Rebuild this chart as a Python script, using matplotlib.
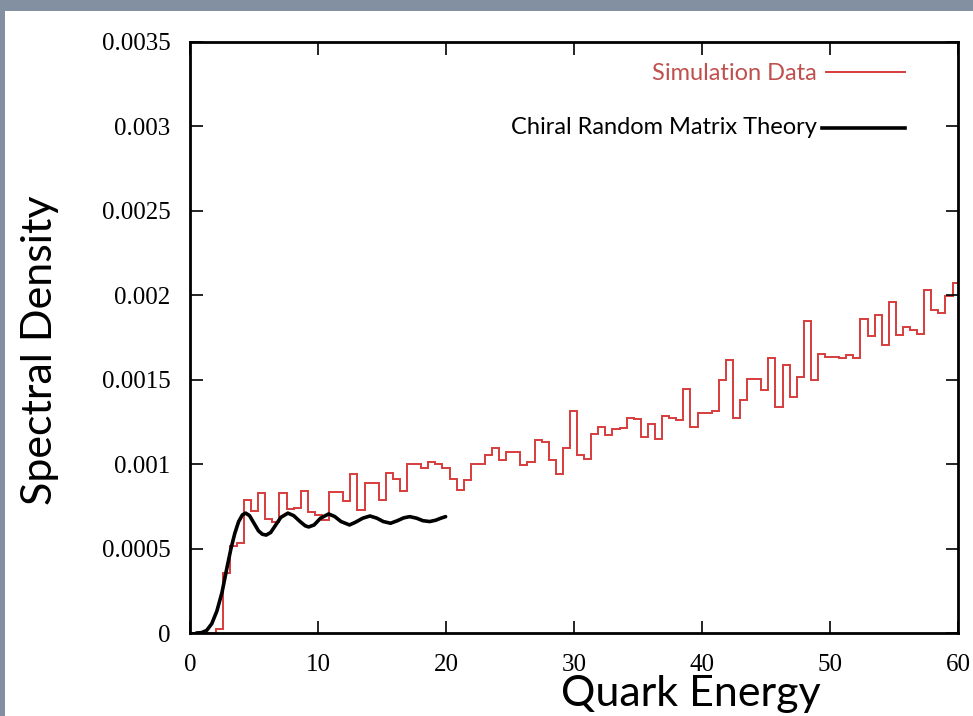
import numpy as np
import matplotlib.pyplot as plt
from matplotlib.patches import Rectangle

# histogram of the simulation (bin edges and heights)
bin_start = 0.35
bin_width = 0.5535
sim_density = [
    0, 0, 0, 0.024e-3, 0.357e-3, 0.515e-3, 0.535e-3, 0.788e-3, 0.725e-3, 0.827e-3,
    0.673e-3, 0.660e-3, 0.830e-3, 0.733e-3, 0.740e-3, 0.843e-3, 0.716e-3, 0.700e-3, 0.670e-3, 0.835e-3,
    0.835e-3, 0.780e-3, 0.940e-3, 0.730e-3, 0.890e-3, 0.890e-3, 0.790e-3, 0.950e-3, 0.910e-3, 0.840e-3,
    1.000e-3, 1.000e-3, 0.980e-3, 1.010e-3, 1.000e-3, 0.976e-3, 0.910e-3, 0.847e-3, 0.906e-3, 1.000e-3,
    1.000e-3, 1.054e-3, 1.094e-3, 1.025e-3, 1.074e-3, 1.074e-3, 0.995e-3, 1.015e-3, 1.143e-3, 1.133e-3,
    1.025e-3, 0.940e-3, 1.094e-3, 1.317e-3, 1.054e-3, 1.029e-3, 1.179e-3, 1.219e-3, 1.173e-3, 1.207e-3,
    1.213e-3, 1.272e-3, 1.265e-3, 1.163e-3, 1.238e-3, 1.147e-3, 1.286e-3, 1.272e-3, 1.262e-3, 1.444e-3,
    1.222e-3, 1.305e-3, 1.305e-3, 1.317e-3, 1.499e-3, 1.617e-3, 1.272e-3, 1.380e-3, 1.503e-3, 1.503e-3,
    1.440e-3, 1.627e-3, 1.337e-3, 1.588e-3, 1.396e-3, 1.518e-3, 1.850e-3, 1.499e-3, 1.653e-3, 1.635e-3,
    1.632e-3, 1.627e-3, 1.645e-3, 1.627e-3, 1.858e-3, 1.759e-3, 1.884e-3, 1.706e-3, 1.963e-3, 1.765e-3,
    1.815e-3, 1.795e-3, 1.771e-3, 2.032e-3, 1.913e-3, 1.898e-3, 1.996e-3, 2.072e-3,
]
sim_edges = bin_start + bin_width * np.arange(len(sim_density) + 1)

# chiral random matrix theory curve
rmt_x = [0.5, 0.9, 1.3, 1.7, 2.1, 2.5, 2.85, 3.2, 3.5, 3.8, 4.1, 4.35, 4.65, 5.0, 5.35,
         5.65, 5.95, 6.3, 6.7, 7.1, 7.65, 8.1, 8.6, 9.0, 9.27, 9.7, 10.2, 10.83, 11.3,
         11.8, 12.46, 12.9, 13.5, 14.06, 14.6, 15.1, 15.67, 16.2, 16.7, 17.17, 17.7,
         18.2, 18.73, 19.2, 19.6, 19.97]
rmt_y = [0, 0.002e-3, 0.015e-3, 0.055e-3, 0.13e-3, 0.24e-3, 0.373e-3, 0.5e-3, 0.59e-3,
         0.66e-3, 0.70e-3, 0.71e-3, 0.695e-3, 0.65e-3, 0.605e-3, 0.585e-3, 0.58e-3,
         0.595e-3, 0.64e-3, 0.685e-3, 0.71e-3, 0.695e-3, 0.66e-3, 0.635e-3, 0.628e-3,
         0.64e-3, 0.68e-3, 0.705e-3, 0.69e-3, 0.66e-3, 0.64e-3, 0.655e-3, 0.68e-3,
         0.693e-3, 0.68e-3, 0.66e-3, 0.65e-3, 0.665e-3, 0.682e-3, 0.689e-3, 0.68e-3,
         0.665e-3, 0.66e-3, 0.668e-3, 0.68e-3, 0.689e-3]

x_ticks = [0, 10, 20, 30, 40, 50, 60]
y_ticks = [0, 0.0005, 0.001, 0.0015, 0.002, 0.0025, 0.003, 0.0035]
y_labels = ['0', '0.0005', '0.001', '0.0015', '0.002', '0.0025', '0.003', '0.0035']

sans = 'Lato'
serif = 'Liberation Serif'

fig = plt.figure(figsize=(9.73, 7.16), dpi=100)
fig.patch.set_facecolor('white')
# slide frame on the top and left
fig.add_artist(Rectangle((0, 1 - 11 / 716), 1, 11 / 716, transform=fig.transFigure,
                         color='#8390a2', lw=0))
fig.add_artist(Rectangle((0, 0), 5 / 973, 1, transform=fig.transFigure,
                         color='#8390a2', lw=0))

ax = fig.add_axes([190 / 973, 83 / 716, 768 / 973, 591 / 716])
ax.stairs(sim_density, sim_edges, color='#d63c3c', lw=1.4)
ax.plot(rmt_x, rmt_y, color='black', lw=2.6, solid_capstyle='round', solid_joinstyle='round')

ax.set_xlim(0, 60)
ax.set_ylim(0, 0.0035)
ax.set_xticks(x_ticks)
ax.set_xticklabels([str(t) for t in x_ticks], family=serif, fontsize=18)
ax.set_yticks(y_ticks)
ax.set_yticklabels(y_labels, family=serif, fontsize=18)
ax.tick_params(direction='in', length=9, width=1.2, top=True, right=True)
ax.tick_params(axis='x', pad=15)
ax.tick_params(axis='y', pad=14)
for s in ax.spines.values():
    s.set_linewidth(2)
    s.set_zorder(3)

# gnuplot style key
ax.text(0.816, 0.946, 'Simulation Data', transform=ax.transAxes, ha='right', va='center',
        family=sans, fontsize=17, color='#c0504d')
ax.plot([0.828, 0.931], [0.949, 0.949], transform=ax.transAxes, color='#d63c3c', lw=1.4)
ax.text(0.816, 0.856, 'Chiral Random Matrix Theory', transform=ax.transAxes, ha='right',
        va='center', family=sans, fontsize=17, color='black')
ax.plot([0.823, 0.931], [0.8545, 0.8545], transform=ax.transAxes, color='black', lw=2.6)

fig.text(691 / 973, 1 - 706 / 716, 'Quark Energy', ha='center', va='baseline',
         family=sans, fontsize=31)
fig.text(40 / 973, 1 - 350 / 716, 'Spectral Density', ha='center', va='center',
         rotation=90, family=sans, fontsize=31)

fig.savefig('out.png', dpi=100)
